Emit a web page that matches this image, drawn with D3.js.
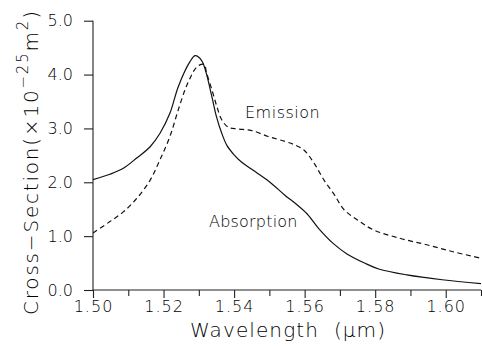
<!DOCTYPE html>
<html>
<head>
<meta charset="utf-8">
<script src="https://cdn.jsdelivr.net/npm/d3@7"></script>
<style>
  html, body { margin: 0; padding: 0; background: #fff; }
  svg { display: block; font-family: "DejaVu Sans", sans-serif; }
  text { fill: #000; }
</style>
</head>
<body>
<svg id="chart" width="482" height="348"></svg>
<script>
// ---- data ----
const absWavelength = [1.500, 1.5048, 1.5086, 1.5124, 1.5162, 1.519, 1.5218, 1.5242, 1.5275, 1.529, 1.5308, 1.532, 1.5337, 1.535, 1.5365, 1.538, 1.540, 1.542, 1.545, 1.550, 1.5544, 1.5575, 1.5606, 1.564, 1.568, 1.572, 1.577, 1.581, 1.589, 1.599, 1.610];
const absorption    = [2.05, 2.15, 2.26, 2.45, 2.66, 2.91, 3.28, 3.78, 4.24, 4.35, 4.26, 4.05, 3.59, 3.22, 2.91, 2.68, 2.51, 2.38, 2.24, 2.01, 1.76, 1.60, 1.42, 1.14, 0.87, 0.67, 0.50, 0.39, 0.28, 0.19, 0.12];

const emiWavelength = [1.500, 1.5048, 1.5086, 1.5124, 1.5162, 1.519, 1.5218, 1.5242, 1.5261, 1.5275, 1.5288, 1.530, 1.5315, 1.5322, 1.5337, 1.5351, 1.5365, 1.5384, 1.541, 1.545, 1.5497, 1.5544, 1.557, 1.5598, 1.5627, 1.5655, 1.5684, 1.5712, 1.575, 1.5794, 1.587, 1.5946, 1.6021, 1.610];
const emission      = [1.06, 1.27, 1.45, 1.70, 2.04, 2.42, 2.85, 3.35, 3.72, 3.93, 4.09, 4.17, 4.19, 4.03, 3.72, 3.41, 3.16, 3.02, 2.99, 2.96, 2.85, 2.76, 2.70, 2.60, 2.35, 2.04, 1.77, 1.49, 1.30, 1.12, 0.96, 0.84, 0.71, 0.59];

const xMajorTicks = [1.50, 1.52, 1.54, 1.56, 1.58, 1.60];
const xTickLabels = ["1.50", "1.52", "1.54", "1.56", "1.58", "1.60"];
const xMinorTicks = [1.51, 1.53, 1.55, 1.57, 1.59, 1.61];
const yTicks = [0, 1, 2, 3, 4, 5];
const yTickLabels = ["0.0", "1.0", "2.0", "3.0", "4.0", "5.0"];

// ---- layout ----
const svg = d3.select("#chart");
const x = d3.scaleLinear().domain([1.50, 1.61]).range([93, 481]);
const y = d3.scaleLinear().domain([0, 5]).range([290, 20.7]);

// y axis
const yAxis = svg.append("g").attr("transform", "translate(93,0)")
  .call(d3.axisLeft(y).tickValues(yTicks).tickSize(9).tickPadding(11)
        .tickFormat((d, i) => yTickLabels[i]));
yAxis.select(".domain").attr("d", `M0,${y(5)}V${y(0)}`);
yAxis.selectAll("text").attr("font-size", 16).attr("font-family", "DejaVu Sans").attr("font-weight", 200)
  .attr("fill", "#000").attr("letter-spacing", 0);

// x axis (major)
const xAxis = svg.append("g").attr("transform", "translate(0,290)")
  .call(d3.axisBottom(x).tickValues(xMajorTicks).tickSize(8).tickPadding(3)
        .tickFormat((d, i) => xTickLabels[i]));
xAxis.select(".domain").attr("d", `M${x(1.50)},0H${x(1.61)}`);
xAxis.selectAll("text").attr("font-size", 16).attr("font-family", "DejaVu Sans").attr("font-weight", 200)
  .attr("fill", "#000").attr("letter-spacing", 1);

// x axis (minor)
const xMinor = svg.append("g").attr("transform", "translate(0,290)")
  .call(d3.axisBottom(x).tickValues(xMinorTicks).tickSize(6).tickFormat(""));
xMinor.select(".domain").remove();

svg.selectAll(".domain, .tick line").attr("stroke", "#222").attr("stroke-width", 1.1);

// curves
const lineGen = (xs) => d3.line()
  .x((d, i) => x(xs[i]))
  .y(d => y(d))
  .curve(d3.curveCatmullRom.alpha(0.5));

svg.append("path").datum(absorption)
  .attr("d", lineGen(absWavelength))
  .attr("fill", "none").attr("stroke", "#111").attr("stroke-width", 1.2);

svg.append("path").datum(emission)
  .attr("d", lineGen(emiWavelength))
  .attr("fill", "none").attr("stroke", "#111").attr("stroke-width", 1.2)
  .attr("stroke-dasharray", "5,3.5");

// annotations
svg.append("text").attr("x", 245).attr("y", 117.5)
  .attr("font-size", 16).attr("font-weight", 200).attr("letter-spacing", 0.5)
  .text("Emission");
svg.append("text").attr("x", 209).attr("y", 227)
  .attr("font-size", 16).attr("font-weight", 200).attr("letter-spacing", 0.2)
  .text("Absorption");

// x label
svg.append("text").attr("x", 190).attr("y", 337)
  .attr("font-size", 20).attr("font-weight", 200)
  .style("white-space", "pre")
  .attr("textLength", 195).attr("lengthAdjust", "spacing")
  .text("Wavelength  (\u03bcm)");

// y label
const yl = svg.append("text")
  .attr("transform", "translate(38,315) rotate(-90)")
  .attr("font-size", 20).attr("font-weight", 200).attr("letter-spacing", 1.8);
yl.append("tspan").text("Cross\u2212Section(\u00d710");
yl.append("tspan").attr("font-size", 15).attr("dy", -10).text("\u221225");
yl.append("tspan").attr("font-size", 20).attr("dy", 10).text("m");
yl.append("tspan").attr("font-size", 15).attr("dy", -10).text("2");
yl.append("tspan").attr("font-size", 20).attr("dy", 10).text(")");
</script>
</body>
</html>
